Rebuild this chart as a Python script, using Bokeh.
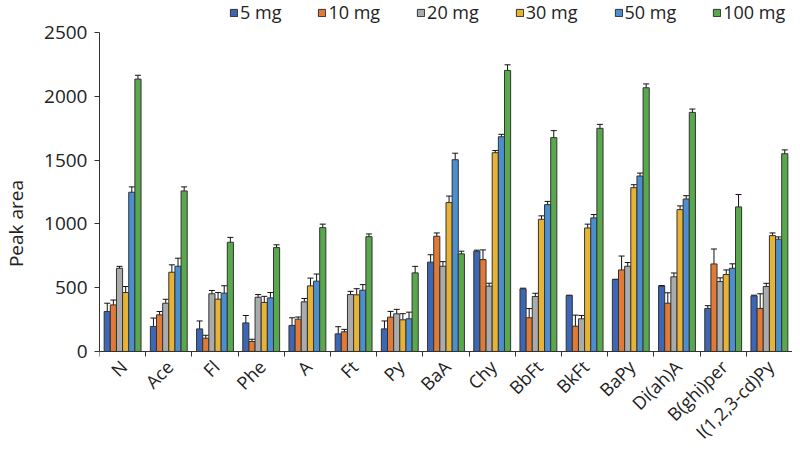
import math
from bokeh.plotting import figure
from bokeh.models import (ColumnDataSource, Whisker, FixedTicker, Legend, LegendItem,
                          Range1d, LinearAxis, LabelSet)
from bokeh.core.properties import value
from bokeh.transform import dodge
from bokeh.embed import file_html
from bokeh.resources import INLINE

categories = ["N", "Ace", "Fl", "Phe", "A", "Ft", "Py", "BaA", "Chy", "BbFt",
              "BkFt", "BaPy", "Di(ah)A", "B(ghi)per", "I(1,2,3-cd)Py"]
series = ["5 mg", "10 mg", "20 mg", "30 mg", "50 mg", "100 mg"]
y_ticks = [0, 500, 1000, 1500, 2000, 2500]

v5   = [313, 196, 177, 224, 204, 138, 177, 700, 786, 491, 438, 564, 512, 337, 436]
v10  = [365, 287, 104,  78, 253, 154, 269, 903, 720, 264, 198, 639, 378, 686, 337]
v20  = [652, 378, 452, 425, 389, 446, 295, 668, 512, 431, 256, 668, 585, 548, 509]
v30  = [462, 621, 410, 384, 514, 444, 248, 1167, 1558, 1036, 968, 1284, 1112, 603, 908]
v50  = [1248, 668, 457, 420, 551, 480, 256, 1503, 1683, 1151, 1047, 1375, 1195, 652, 880]
v100 = [2135, 1258, 856, 814, 971, 900, 616, 765, 2203, 1676, 1749, 2067, 1874, 1133, 1550]

e5   = [65, 66, 62, 58, 60, 56, 62, 58, 8, 5, 3, 2, 5, 22, 5]
e10  = [38, 26, 23, 18, 17, 19, 45, 26, 76, 72, 87, 109, 82, 117, 115]
e20  = [15, 31, 26, 21, 26, 25, 35, 36, 23, 25, 26, 29, 30, 29, 25]
e30  = [47, 58, 52, 48, 61, 48, 48, 51, 17, 27, 30, 23, 29, 36, 21]
e50  = [42, 63, 58, 42, 56, 44, 52, 51, 19, 25, 26, 23, 26, 35, 18]
e100 = [30, 32, 38, 22, 27, 21, 51, 21, 44, 55, 31, 30, 26, 97, 30]

values = [v5, v10, v20, v30, v50, v100]
errors = [e5, e10, e20, e30, e50, e100]
colors = ["#3d66b4", "#e07a35", "#a9abad", "#e8b234", "#4b8fd0", "#5aa84e"]

n = len(categories)
xc = [i + 0.5 for i in range(n)]
bw = 0.133
offsets = [(k - 2.5) * bw for k in range(6)]

p = figure(width=792, height=446, output_backend="svg", toolbar_location=None,
           x_range=Range1d(0, n), y_range=Range1d(-745, 2751), x_axis_type=None,
           min_border_left=81, min_border_right=0, min_border_top=0,
           min_border_bottom=0)
p.xgrid.visible = False
p.ygrid.visible = False
p.outline_line_color = None
p.background_fill_color = "white"

items = []
for k in range(6):
    up = [v + e for v, e in zip(values[k], errors[k])]
    lo = [v - e for v, e in zip(values[k], errors[k])]
    src = ColumnDataSource(dict(x=xc, top=values[k], upper=up, lower=lo))
    r = p.vbar(x=dodge("x", offsets[k]), top="top", width=bw,
               bottom=0, source=src, fill_color=colors[k], line_color="#333333",
               line_width=1)
    w = Whisker(base=dodge("x", offsets[k]), upper="upper",
                lower="lower", source=src, line_color="#111111", line_width=1)
    w.upper_head.size = 6
    w.lower_head.size = 6
    w.upper_head.line_color = "#111111"
    w.lower_head.line_color = "#111111"
    p.add_layout(w)
    items.append(LegendItem(label=series[k], renderers=[r]))

legend = Legend(items=items, orientation="horizontal", location=(130, 422),
                label_text_font="Open Sans", label_text_font_size="18px",
                label_text_color="#222222", glyph_width=9, glyph_height=9,
                label_standoff=2, spacing=36, padding=0, margin=0,
                label_height=22, border_line_alpha=0, background_fill_alpha=0)
p.add_layout(legend)

# y axis
p.yaxis.ticker = FixedTicker(ticks=y_ticks)
p.yaxis.bounds = (y_ticks[0], y_ticks[-1])
p.yaxis.axis_label = "Peak area"
p.yaxis.axis_label_text_font = "Open Sans"
p.yaxis.axis_label_text_font_size = "19px"
p.yaxis.axis_label_text_font_style = "normal"
p.yaxis.axis_label_text_color = "#222222"
p.yaxis.axis_label_standoff = 12
p.yaxis.major_label_text_font = "Open Sans"
p.yaxis.major_label_text_font_size = "19px"
p.yaxis.major_label_text_color = "#222222"
p.yaxis.major_label_standoff = 7
p.yaxis.axis_line_color = "#333333"
p.yaxis.major_tick_line_color = "#333333"
p.yaxis.major_tick_out = 5
p.yaxis.major_tick_in = 0
p.yaxis.minor_tick_line_color = None

# x axis at y = 0: category separators as (minor) ticks, names as rotated labels
xaxis = LinearAxis(
    ticker=FixedTicker(ticks=[], minor_ticks=list(range(n + 1))),
    fixed_location=0,
    major_tick_line_color=None,
    minor_tick_line_color="#333333",
    minor_tick_out=5, minor_tick_in=0,
    axis_line_color="#333333",
)
p.add_layout(xaxis, "below")

lab_src = ColumnDataSource(dict(x=xc, y=[0] * n, text=categories))
labels = LabelSet(x="x", y="y", text="text", source=lab_src,
                  x_units="data", y_units="data", angle=math.pi / 4,
                  x_offset=1, y_offset=-12, text_align="right",
                  text_baseline="middle",
                  text_font=value("Open Sans"), text_font_size=value("18px"),
                  text_color="#222222")
p.add_layout(labels)

open("out.html", "w").write(file_html(p, INLINE))
